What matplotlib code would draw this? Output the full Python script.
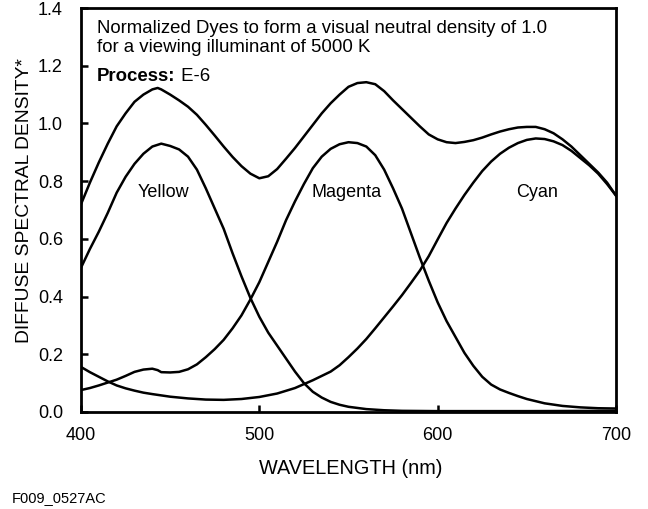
import matplotlib.pyplot as plt

# Valeurs (longueur d'onde en nm, densite)
yellow_nm = [400, 405, 410, 415, 420, 425, 430, 435, 440, 445, 450, 455, 460, 465, 470,
             475, 480, 485, 490, 495, 500, 505, 510, 515, 520, 525, 530, 535, 540, 545,
             550, 560, 570, 580, 600, 650, 700]
yellow = [0.50, 0.565, 0.625, 0.69, 0.76, 0.815, 0.86, 0.895, 0.92, 0.93, 0.922, 0.91,
          0.885, 0.84, 0.775, 0.705, 0.635, 0.55, 0.47, 0.395, 0.33, 0.275, 0.23, 0.185,
          0.14, 0.10, 0.07, 0.05, 0.035, 0.025, 0.018, 0.01, 0.006, 0.004, 0.003, 0.003,
          0.004]

magenta_nm = [400, 405, 410, 415, 420, 425, 430, 435, 440, 443, 445, 450, 455, 460, 465,
              470, 475, 480, 485, 490, 495, 500, 505, 510, 515, 520, 525, 530, 535, 540,
              545, 550, 555, 560, 565, 570, 575, 580, 585, 590, 595, 600, 605, 610, 615,
              620, 625, 630, 635, 640, 645, 650, 660, 670, 680, 690, 700]
magenta = [0.076, 0.083, 0.092, 0.102, 0.112, 0.125, 0.139, 0.147, 0.150, 0.145, 0.138,
           0.137, 0.139, 0.148, 0.165, 0.19, 0.218, 0.25, 0.29, 0.335, 0.39, 0.45, 0.52,
           0.59, 0.665, 0.73, 0.79, 0.845, 0.885, 0.912, 0.928, 0.935, 0.932, 0.92, 0.89,
           0.84, 0.775, 0.705, 0.62, 0.535, 0.455, 0.38, 0.315, 0.26, 0.205, 0.16, 0.122,
           0.095, 0.078, 0.066, 0.055, 0.045, 0.03, 0.021, 0.016, 0.013, 0.012]

cyan_nm = [400, 405, 410, 415, 420, 425, 430, 435, 440, 450, 460, 470, 480, 490, 500,
           510, 520, 530, 540, 545, 550, 555, 560, 565, 570, 575, 580, 585, 590, 595,
           600, 605, 610, 615, 620, 625, 630, 635, 640, 645, 650, 655, 660, 665, 670,
           675, 680, 685, 690, 695, 700]
cyan = [0.156, 0.138, 0.122, 0.106, 0.092, 0.082, 0.074, 0.067, 0.062, 0.053, 0.047,
        0.043, 0.042, 0.045, 0.052, 0.064, 0.083, 0.11, 0.14, 0.162, 0.19, 0.22, 0.253,
        0.29, 0.328, 0.366, 0.405, 0.447, 0.49, 0.54, 0.598, 0.655, 0.705, 0.752, 0.795,
        0.835, 0.868, 0.895, 0.916, 0.932, 0.943, 0.948, 0.946, 0.938, 0.925, 0.905,
        0.88, 0.855, 0.826, 0.79, 0.75]

neutral_nm = [400, 405, 410, 415, 420, 425, 430, 435, 440, 443, 445, 450, 455, 460, 465,
              470, 475, 480, 485, 490, 495, 500, 505, 510, 515, 520, 525, 530, 535, 540,
              545, 550, 555, 560, 565, 570, 575, 580, 585, 590, 595, 600, 605, 610, 615,
              620, 625, 630, 635, 640, 645, 650, 655, 660, 665, 670, 675, 680, 685, 690,
              695, 700]
neutral = [0.72, 0.795, 0.865, 0.93, 0.99, 1.035, 1.075, 1.10, 1.118, 1.123, 1.118, 1.10,
           1.08, 1.058, 1.03, 0.995, 0.958, 0.92, 0.884, 0.852, 0.826, 0.81, 0.817, 0.842,
           0.878, 0.915, 0.955, 0.995, 1.035, 1.07, 1.10, 1.127, 1.14, 1.143, 1.136, 1.112,
           1.08, 1.05, 1.02, 0.99, 0.962, 0.945, 0.935, 0.932, 0.936, 0.942, 0.951, 0.962,
           0.972, 0.98, 0.986, 0.988, 0.988, 0.98, 0.966, 0.945, 0.92, 0.89, 0.86, 0.83,
           0.795, 0.75]

dye_labels = ['Yellow', 'Magenta', 'Cyan']
dye_label_nm = [446.5, 549, 655.7]

plt.rcParams['font.family'] = ['Liberation Sans', 'DejaVu Sans']

fig = plt.figure(figsize=(6.48, 5.09), dpi=100)
ax = fig.add_axes([0.125, 0.1906, 0.8256, 0.7936])

for x, y in [(yellow_nm, yellow), (magenta_nm, magenta), (cyan_nm, cyan), (neutral_nm, neutral)]:
    ax.plot(x, y, color='black', lw=1.8, solid_joinstyle='round')

for name, pos in zip(dye_labels, dye_label_nm):
    ax.text(pos, 0.76, name, ha='center', va='center', fontsize=13)

ax.text(0.03, 0.938, 'Normalized Dyes to form a visual neutral density of 1.0',
        transform=ax.transAxes, fontsize=13.4, va='baseline')
ax.text(0.03, 0.891, 'for a viewing illuminant of 5000 K',
        transform=ax.transAxes, fontsize=13.4, va='baseline')
t_proc = ax.text(0.03, 0.819, 'Process:', transform=ax.transAxes, fontsize=13.4,
                 fontweight='bold', va='baseline')
ax.annotate(' E-6', xy=(1, 0), xycoords=t_proc, fontsize=13.4, va='bottom')

ax.set_xlim(400, 700)
ax.set_ylim(0, 1.4)
ax.set_xticks([400, 500, 600, 700])
ax.set_yticks([0.0, 0.2, 0.4, 0.6, 0.8, 1.0, 1.2, 1.4])
ax.set_yticklabels(['0.0', '0.2', '0.4', '0.6', '0.8', '1.0', '1.2', '1.4'])
ax.tick_params(axis='both', direction='in', length=5, width=1.8, labelsize=13)
ax.tick_params(axis='y', pad=13)
ax.tick_params(axis='x', pad=11)
for s in ax.spines.values():
    s.set_linewidth(2)

fig.text(351 / 648, 1 - 474 / 509, 'WAVELENGTH (nm)', ha='center', va='baseline', fontsize=14.3)
fig.text(24.5 / 648, 1 - 201 / 509, 'DIFFUSE SPECTRAL DENSITY*', ha='center', va='center',
         rotation=90, fontsize=13.9)
fig.text(12 / 648, 1 - 502 / 509, 'F009_0527AC', ha='left', va='baseline', fontsize=10.5)

plt.savefig('out.png', dpi=100)
